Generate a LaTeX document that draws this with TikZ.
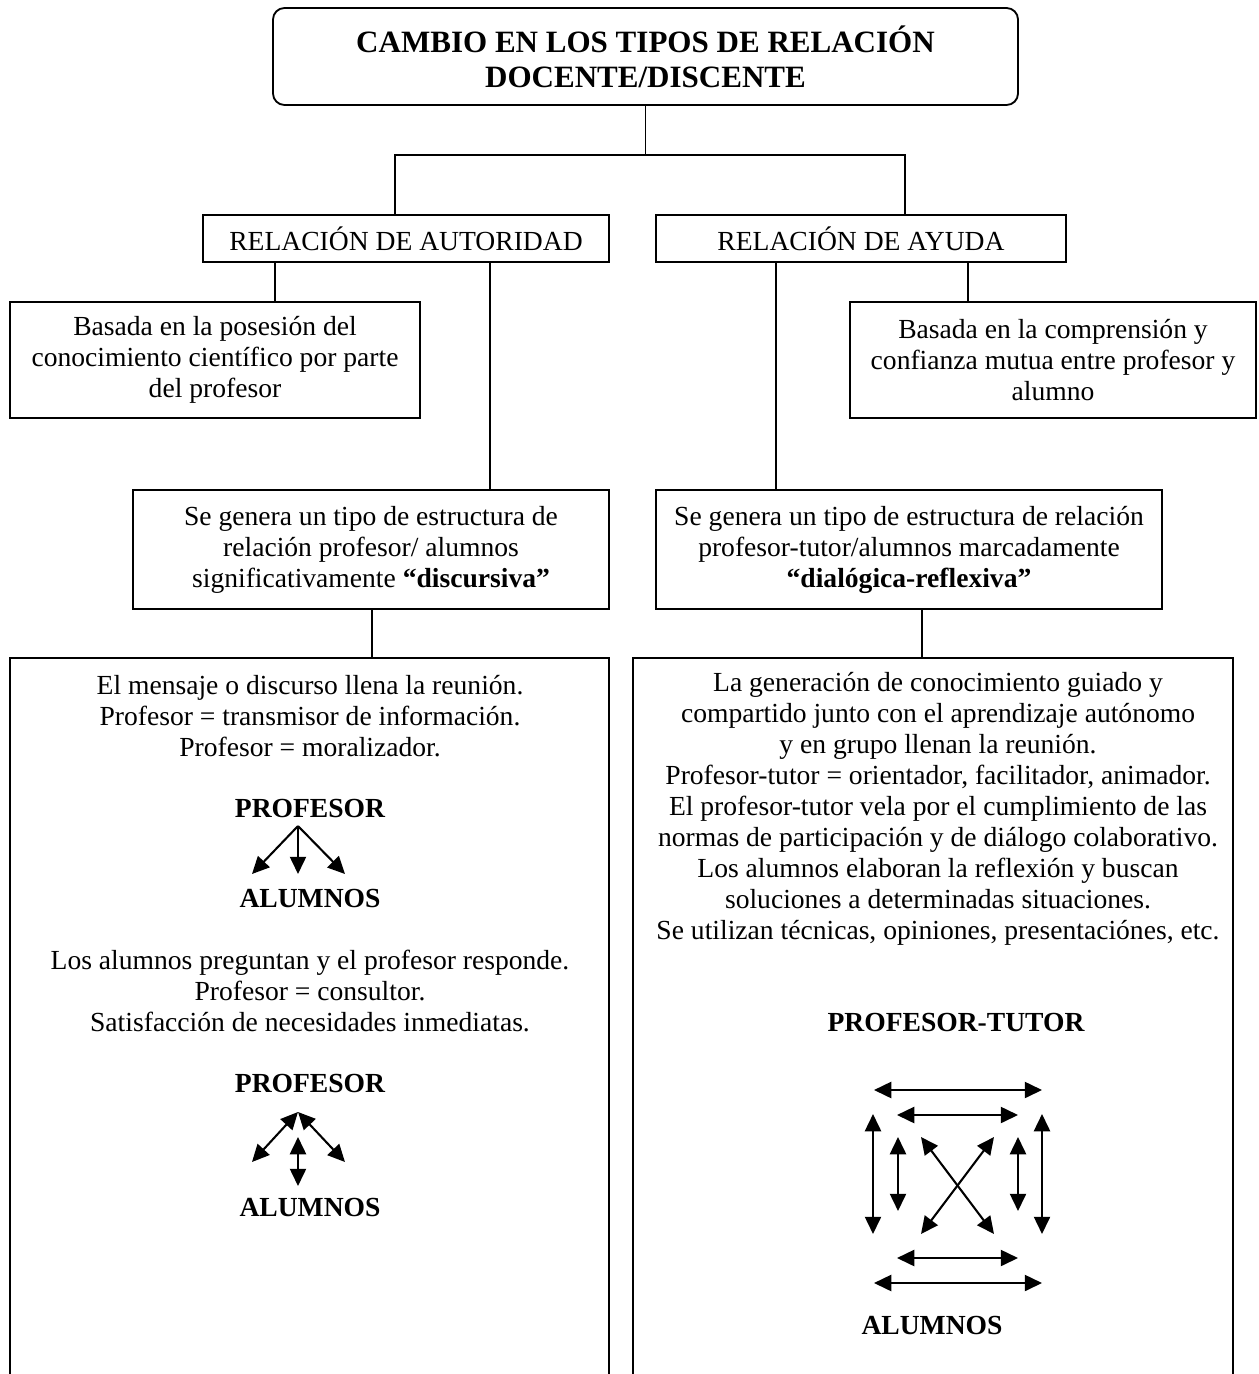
\documentclass[tikz,border=0pt]{standalone}
\usepackage{fontspec}
\setmainfont{Liberation Serif}
\usetikzlibrary{arrows.meta}
\newcommand{\pxu}{0.435pt}

\begin{document}
\begin{tikzpicture}[x=\pxu, y=-\pxu, line width=0.8pt,
    txt/.style={align=center, inner sep=0pt, font=\fontsize{12}{13.5}\selectfont},
    hd/.style={txt, font=\fontsize{12}{13.5}\selectfont\bfseries},
    box/.style 2 args={draw, txt, minimum width=#1*\pxu, minimum height=#2*\pxu},
    >={Triangle[length=7.5pt,width=7pt]}]
    \useasboundingbox (0,0) rectangle (1258,1374);

    % boxes
    \node[box={745}{97}, rounded corners=5pt, font=\fontsize{13.5}{15.2}\selectfont\bfseries] (title) at (645.5,56.5)
        {CAMBIO EN LOS TIPOS DE RELACIÓN\\DOCENTE/DISCENTE};
    \node[box={406}{47}] (aut) at (406,238.5) {RELACIÓN DE AUTORIDAD};
    \node[box={410}{47}] (ayu) at (861,238.5) {RELACIÓN DE AYUDA};
    \node[box={410}{116}] (basaut) at (215,360)
        {Basada en la posesión del\\conocimiento científico por parte\\del profesor};
    \node[box={406}{116}] (basayu) at (1053,360)
        {Basada en la comprensión y\\confianza mutua entre profesor y\\alumno};
    \node[box={476}{119}] (disc) at (371,549.5)
        {Se genera un tipo de estructura de\\relación profesor/ alumnos\\significativamente \textbf{“discursiva”}};
    \node[box={506}{119}] (dial) at (909,549.5)
        {Se genera un tipo de estructura de relación\\profesor-tutor/alumnos marcadamente\\\textbf{“dialógica-reflexiva”}};
    \node[box={599}{732}] (msgaut) at (309.5,1024) {};
    \node[box={600}{732}] (msgayu) at (933,1024) {};

    % connectors
    \coordinate (jl) at (395,155);
    \coordinate (jr) at (905,155);
    \coordinate (xa1) at (275,0);
    \coordinate (xa2) at (490,0);
    \coordinate (xb1) at (776,0);
    \coordinate (xb2) at (968,0);
    \coordinate (xd1) at (372,0);
    \coordinate (xd2) at (922,0);
    \draw (title.south) -- (title.south |- jl);
    \draw (aut.north -| jl) -- (jl) -- (jr) -- (ayu.north -| jr);
    \draw (aut.south -| xa1) -- (basaut.north -| xa1);
    \draw (aut.south -| xa2) -- (disc.north -| xa2);
    \draw (ayu.south -| xb1) -- (dial.north -| xb1);
    \draw (ayu.south -| xb2) -- (basayu.north -| xb2);
    \draw (disc.south -| xd1) -- (msgaut.north -| xd1);
    \draw (dial.south -| xd2) -- (msgayu.north -| xd2);

    % left box
    \node[txt] (t1) at (310,716)
        {El mensaje o discurso llena la reunión.\\Profesor = transmisor de información.\\Profesor = moralizador.};
    \node[hd] (prof1) at (310,808) {PROFESOR};
    \node[hd] (alum1) at (310,898) {ALUMNOS};
    \coordinate (o1) at (298,826);
    \foreach \dx in {-46,0,47}
        \draw[->, line width=0.9pt] (o1) -- ++(\dx,48);
    \node[txt] (t2) at (310,991)
        {Los alumnos preguntan y el profesor responde.\\Profesor = consultor.\\Satisfacción de necesidades inmediatas.};
    \node[hd] (prof2) at (310,1083) {PROFESOR};
    \node[hd] (alum2) at (310,1207) {ALUMNOS};
    \coordinate (o2) at (298,1112);
    \draw[<->, line width=0.9pt] (o2) -- ++(-46,50);
    \draw[<->, line width=0.9pt] (o2) -- ++(47,50);
    \draw[<->, line width=0.9pt] (298,1137) -- (298,1186);

    % right box
    \node[txt] (t3) at (938,809)
        {La generación de conocimiento guiado y\\compartido junto con el aprendizaje autónomo\\y en grupo llenan la reunión.\\Profesor-tutor = orientador, facilitador, animador.\\El profesor-tutor vela por el cumplimiento de las\\normas de participación y de diálogo colaborativo.\\Los alumnos elaboran la reflexión y buscan\\soluciones a determinadas situaciones.\\Se utilizan técnicas, opiniones, presentaciónes, etc.};
    \node[hd] (prof3) at (956,1022) {PROFESOR-TUTOR};
    \node[hd] (alum3) at (932,1325) {ALUMNOS};
    \begin{scope}[shift={(957,1186)}, line width=0.9pt]
        \foreach \y in {-96,97}
            \draw[<->] (-83,\y) -- (85,\y);
        \foreach \y in {-71,72}
            \draw[<->] (-60,\y) -- (61,\y);
        \foreach \x in {-84,85}
            \draw[<->] (\x,-72) -- (\x,48);
        \foreach \x in {-59,61}
            \draw[<->] (\x,-49) -- (\x,25);
        \draw[<->] (-36,-49) -- (37,48);
        \draw[<->] (37,-49) -- (-36,48);
    \end{scope}
\end{tikzpicture}
\end{document}
